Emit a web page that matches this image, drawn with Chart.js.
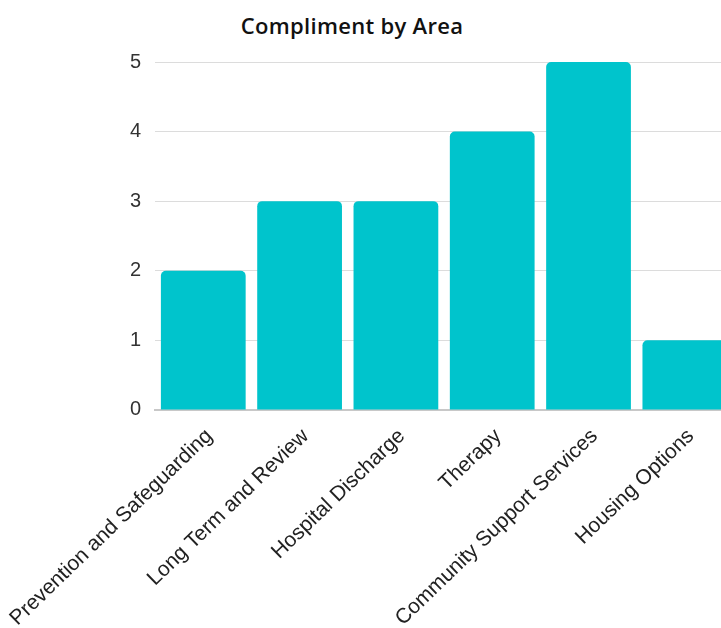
<!DOCTYPE html>
<html>
<head>
<meta charset="utf-8">
<script src="https://cdn.jsdelivr.net/npm/chart.js@4"></script>
<style>
  html, body { margin: 0; padding: 0; background: #fff; overflow: hidden; }
  #wrap { position: relative; width: 721px; height: 628px; overflow: hidden; }
  #title {
    position: absolute; left: 0; top: 10px; width: 704px; text-align: center;
    font-family: "Open Sans", sans-serif; font-weight: 600; font-size: 22px;
    letter-spacing: 0.3px; color: #111;
  }
  #box { position: absolute; left: 0; top: 0; width: 733px; height: 637px; }
</style>
</head>
<body>
<div id="wrap">
  <div id="title">Compliment by Area</div>
  <div id="box"><canvas id="myChart"></canvas></div>
</div>
<script>
const areas = ['Prevention and Safeguarding', 'Long Term and Review', 'Hospital Discharge', 'Therapy', 'Community Support Services', 'Housing Options'];
const compliments = [2, 3, 3, 4, 5, 1];
const yTicks = [0, 1, 2, 3, 4, 5];

var ctx = document.getElementById('myChart');
var myChart = new Chart(ctx, {
    type: 'bar',
    data: {
        labels: areas,
        datasets: [{
            label: 'Compliments',
            data: compliments,
            backgroundColor: '#00c4cc',
            borderRadius: 5,
            borderSkipped: 'bottom',
            barPercentage: 0.88,
            categoryPercentage: 1
        }]
    },
    options: {
        responsive: true,
        maintainAspectRatio: false,
        animation: false,
        layout: { padding: { left: 116, top: 62, right: 0, bottom: 0 } },
        plugins: { legend: { display: false }, tooltip: { enabled: false } },
        scales: {
            x: {
                // let the first rotated label run off the left edge, like the original
                afterFit: (scale) => { scale.paddingLeft = 0; scale.paddingRight = 0; },
                grid: { display: false },
                border: { display: true, color: '#c8c8c8', width: 2 },
                ticks: {
                    minRotation: 44, maxRotation: 44, padding: 6, labelOffset: 6,
                    color: '#222',
                    font: { family: 'Liberation Sans', size: 21 }
                }
            },
            y: {
                min: 0, max: 5,
                afterBuildTicks: (axis) => { axis.ticks = yTicks.map(v => ({ value: v })); },
                grid: { color: '#dcdcdc', drawTicks: false },
                border: { display: false },
                ticks: {
                    padding: 14, color: '#333',
                    font: { family: 'Liberation Sans', size: 20 }
                }
            }
        }
    }
});
</script>
</body>
</html>
